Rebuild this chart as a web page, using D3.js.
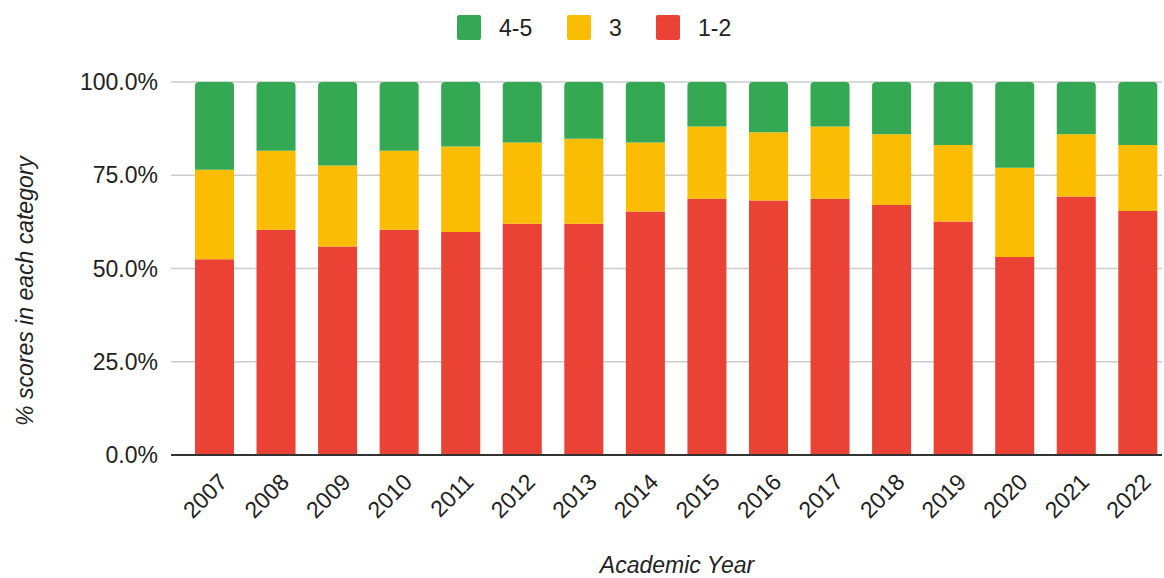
<!DOCTYPE html>
<html>
<head>
<meta charset="utf-8">
<script src="https://cdn.jsdelivr.net/npm/d3@7/dist/d3.min.js"></script>
<style>
  html, body { margin: 0; padding: 0; background: #fff; }
  svg { display: block; font-family: "Liberation Sans", Arial, sans-serif; }
</style>
</head>
<body>
<svg id="chart" width="1164" height="578"></svg>
<script>
// Academic years on the x axis
const years = ["2007","2008","2009","2010","2011","2012","2013","2014",
               "2015","2016","2017","2018","2019","2020","2021","2022"];

// Share of scores (%) in each band, per year
const scores12 = [52.5, 60.4, 55.9, 60.4, 59.8, 62.0, 62.0, 65.3, 68.7, 68.2, 68.7, 67.0, 62.6, 53.1, 69.3, 65.4];
const scores3  = [24.0, 21.2, 21.7, 21.2, 22.9, 21.8, 22.8, 18.5, 19.4, 18.3, 19.4, 19.0, 20.5, 23.9, 16.7, 17.7];
const scores45 = [23.5, 18.4, 22.4, 18.4, 17.3, 16.2, 15.2, 16.2, 11.9, 13.5, 11.9, 14.0, 16.9, 23.0, 14.0, 16.9];

const yTicks = [0, 25, 50, 75, 100];

const seriesKeys   = ["s12", "s3", "s45"];           // stacking order, bottom to top
const seriesLabels = { s45: "4-5", s3: "3", s12: "1-2" };
const seriesColors = { s45: "#34a853", s3: "#fbbc04", s12: "#ea4335" };
const legendOrder  = ["s45", "s3", "s12"];

const rows = years.map((y, i) => ({ year: y, s12: scores12[i], s3: scores3[i], s45: scores45[i] }));

const svg = d3.select("#chart");
const plotLeft = 171, plotRight = 1162, plotTop = 82, plotBottom = 455;

const x = d3.scaleBand()
  .domain(years)
  .range([183.7, 1168.6])
  .paddingInner(0.366)
  .paddingOuter(0.183);

const y = d3.scaleLinear().domain([0, 100]).range([plotBottom, plotTop]);

// Gridlines
svg.append("g")
  .selectAll("line")
  .data(yTicks.filter(t => t > 0))
  .join("line")
  .attr("x1", plotLeft).attr("x2", plotRight)
  .attr("y1", d => y(d)).attr("y2", d => y(d))
  .attr("stroke", "#cccccc").attr("stroke-width", 1.5);

// Y tick labels
svg.append("g")
  .selectAll("text")
  .data(yTicks)
  .join("text")
  .attr("x", 158)
  .attr("y", d => y(d))
  .attr("dy", "0.35em")
  .attr("text-anchor", "end")
  .attr("font-size", 23)
  .attr("fill", "#222")
  .text(d => d3.format(".1f")(d) + "%");

// Stacked bars
const stacked = d3.stack().keys(seriesKeys)(rows);
const r = 4;
stacked.forEach((layer, li) => {
  const key = layer.key;
  const isTop = li === stacked.length - 1;
  svg.append("g")
    .selectAll("path")
    .data(layer)
    .join("path")
    .attr("fill", seriesColors[key])
    .attr("d", d => {
      const x0 = x(d.data.year), w = x.bandwidth();
      const yTop = y(d[1]), yBot = y(d[0]);
      if (!isTop) {
        return `M${x0},${yBot}V${yTop}H${x0 + w}V${yBot}Z`;
      }
      return `M${x0},${yBot}V${yTop + r}Q${x0},${yTop} ${x0 + r},${yTop}` +
             `H${x0 + w - r}Q${x0 + w},${yTop} ${x0 + w},${yTop + r}V${yBot}Z`;
    });
});

// Baseline
svg.append("line")
  .attr("x1", plotLeft).attr("x2", plotRight)
  .attr("y1", y(0)).attr("y2", y(0))
  .attr("stroke", "#333").attr("stroke-width", 2);

// X tick labels, rotated
svg.append("g")
  .selectAll("text")
  .data(years)
  .join("text")
  .attr("transform", d => `translate(${x(d) + x.bandwidth() / 2 + 3},${472}) rotate(-45)`)
  .attr("text-anchor", "end")
  .attr("dy", "0.7em")
  .attr("font-size", 23)
  .attr("fill", "#222")
  .text(d => d);

// Axis titles
svg.append("text")
  .attr("x", 677).attr("y", 573)
  .attr("text-anchor", "middle")
  .attr("font-size", 23)
  .attr("font-style", "italic")
  .attr("fill", "#222")
  .text("Academic Year");

svg.append("text")
  .attr("transform", "translate(33,291) rotate(-90)")
  .attr("text-anchor", "middle")
  .attr("font-size", 23)
  .attr("font-style", "italic")
  .attr("fill", "#222")
  .text("% scores in each category");

// Legend
const legendX = { s45: 457, s3: 567, s12: 656 };
const legend = svg.append("g")
  .selectAll("g")
  .data(legendOrder)
  .join("g")
  .attr("transform", k => `translate(${legendX[k]},15)`);
legend.append("rect")
  .attr("width", 24).attr("height", 25).attr("rx", 2)
  .attr("fill", k => seriesColors[k]);
legend.append("text")
  .attr("x", 42).attr("y", 20.5)
  .attr("font-size", 23)
  .attr("fill", "#222")
  .text(k => seriesLabels[k]);
</script>
</body>
</html>
